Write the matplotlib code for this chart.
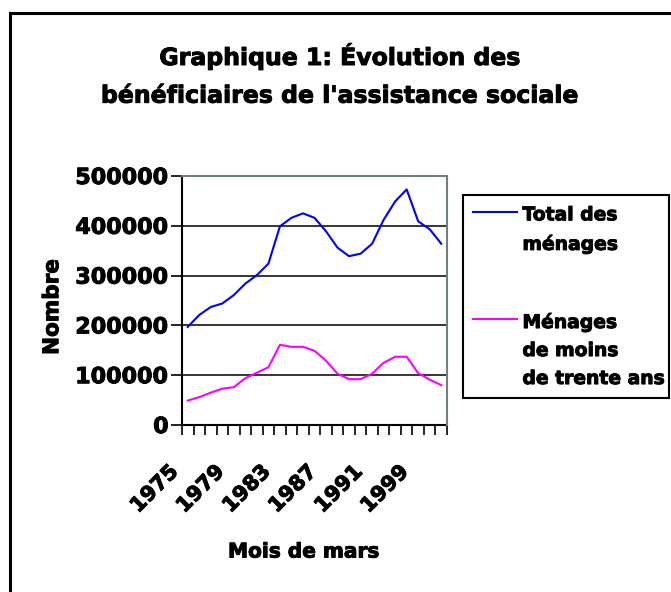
import numpy as np
import matplotlib
matplotlib.use("Agg")
import matplotlib.pyplot as plt
import matplotlib.patheffects as pe
from matplotlib.patches import Rectangle
from matplotlib.transforms import ScaledTranslation

# Data
annees = [str(a) for a in range(1975, 1992)] + ["1993", "1995", "1997", "1999", "2000", "2001"]
total_menages = [197000, 221000, 237000, 244000, 261000, 284000, 301000, 324000,
                 399000, 416000, 425000, 416000, 389000, 356000, 339000, 344000,
                 364000, 412000, 449000, 473000, 409000, 393000, 364000]
moins_30_ans = [49000, 56000, 65000, 73000, 76000, 94000, 105000, 116000,
                161000, 157000, 157000, 149000, 129000, 103000, 92000, 92000,
                103000, 125000, 137000, 137000, 104000, 91000, 80000]
etiquettes_x = ["1975", "1979", "1983", "1987", "1991", "1999"]
graduations_y = [0, 100000, 200000, 300000, 400000, 500000]
noms_series = ["Total des\nménages", "Ménages\nde moins\nde trente ans"]

W, H = 671, 592
plt.rcParams['font.family'] = ['DejaVu Sans']
plt.rcParams['font.weight'] = 'bold'
gras = [pe.withStroke(linewidth=0.7, foreground='black')]

fig = plt.figure(figsize=(W / 100, H / 100), dpi=100)
ax = fig.add_axes([182 / W, 1 - 425 / H, 265 / W, 249 / H])

x = np.arange(len(annees))
l1, = ax.plot(x, total_menages, color='#0000ff', lw=1.5, zorder=3)
l2, = ax.plot(x, moins_30_ans, color='#ff00ff', lw=1.5, zorder=3)

ax.set_xlim(-0.5, len(annees) - 0.5)
ax.set_ylim(0, 500000)

# y axis
ax.set_yticks(graduations_y)
ax.set_yticklabels([str(v) for v in graduations_y], fontsize=16, fontweight='bold')
ax.tick_params(axis='y', direction='out', length=8, width=1.2, pad=1.5)
ax.grid(axis='y', color='black', lw=1.1, zorder=1)

# x axis: ticks between categories, labels every 4 categories
ax.set_xticks(np.arange(-0.5, len(annees), 1))
ax.set_xticklabels([])
ax.set_xticks([annees.index(e) for e in etiquettes_x], minor=True)
ax.set_xticklabels(etiquettes_x, minor=True, rotation=45, ha='right', va='top',
                   fontsize=15, fontweight='bold')
ax.tick_params(axis='x', which='major', direction='out', length=7, width=1.2)
ax.tick_params(axis='x', which='minor', length=0, pad=26)
for lbl in ax.get_xticklabels(minor=True):
    lbl.set_transform(lbl.get_transform() + ScaledTranslation(-4 / 72, 0, fig.dpi_scale_trans))

for s in ['left', 'bottom']:
    ax.spines[s].set_color('black')
    ax.spines[s].set_linewidth(1.5)
for s in ['top', 'right']:
    ax.spines[s].set_color('#6f7f80')
    ax.spines[s].set_linewidth(1.5)
    ax.spines[s].set_zorder(4)

ax.set_ylabel("Nombre", fontsize=15.5, fontweight='bold')
ax.yaxis.set_label_coords(-0.452, 0.474)
ax.set_xlabel("Mois de mars", fontsize=14.5, fontweight='bold')
ax.xaxis.set_label_coords(0.46, -0.51)
ax.xaxis.label.set_va('center')

titre = fig.text(340 / W, 1 - 42 / H,
                 "Graphique 1: Évolution des\nbénéficiaires de l'assistance sociale",
                 ha='center', va='top', fontsize=17, fontweight='bold', linespacing=1.72)

# Legend
leg = ax.legend([l1, l2], noms_series, loc='upper left', mode='expand',
                bbox_to_anchor=(463 / W, 0, 206 / W, 1 - 195 / H),
                bbox_transform=fig.transFigure, borderaxespad=0,
                fancybox=False, framealpha=1, edgecolor='black',
                prop={'size': 13.5, 'weight': 'bold'},
                handlelength=2.35, handletextpad=0.27, borderpad=0.55,
                labelspacing=3.1)
leg.get_frame().set_linewidth(1.5)
for t in leg.get_texts():
    t.set_linespacing(1.6)
for col in leg._legend_handle_box.get_children():
    for item in col.get_children():
        item.align = 'top'

# heavier look for all text
for t in ([titre, ax.xaxis.label, ax.yaxis.label] + list(leg.get_texts())
          + ax.get_yticklabels() + ax.get_xticklabels(minor=True)):
    t.set_path_effects(gras)

# Outer frame (cut by the picture edges)
fig.patches.append(Rectangle((10 / W, -0.2), 1.5, 1.2 - 12.5 / H, transform=fig.transFigure,
                             fill=False, edgecolor='black', lw=2.2, clip_on=False))

fig.savefig("out.png", dpi=100)
